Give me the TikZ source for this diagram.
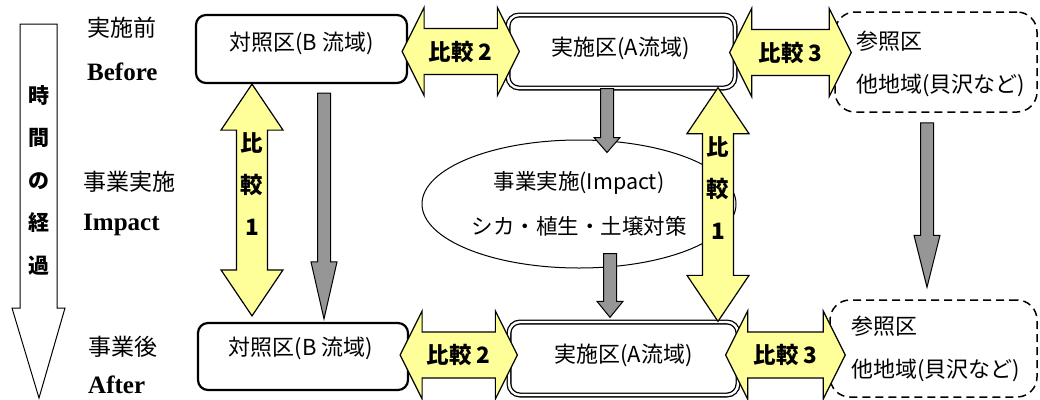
\documentclass[tikz,border=0pt]{standalone}
\usepackage{fontspec}
\setmainfont{Noto Sans CJK JP}
\newfontfamily\romanfont{Liberation Serif}
\usetikzlibrary{shapes.geometric, positioning, calc}

\definecolor{cmpyellow}{RGB}{255,255,153}
\definecolor{flowgray}{RGB}{150,150,150}

\tikzset{
  cmparrow/.style={fill=cmpyellow, draw=black, line width=1.2pt},
  cmplbl/.style={inner sep=0pt, align=center, font=\bfseries\fontsize{22.5}{42}\selectfont},
  flow/.style={fill=flowgray, draw=black, line width=1pt},
}

% yellow double arrow, left/right
\newcommand{\cmph}[4]{%
  \path (#2) coordinate (hl) (#3) coordinate (hr);
  \filldraw[cmparrow] (hl) -- ($(hl)+(22,-44)$) -- ($(hl)+(22,-23)$) -- ($(hr)+(-22,-23)$)
    -- ($(hr)+(-22,-44)$) -- (hr) -- ($(hr)+(-22,44)$) -- ($(hr)+(-22,23)$)
    -- ($(hl)+(22,23)$) -- ($(hl)+(22,44)$) -- cycle;
  \node[cmplbl] (#1) at ($(hl)!0.5!(hr)$) {#4};
}
% yellow double arrow, up/down
\newcommand{\cmpv}[4]{%
  \path (#2) coordinate (vt) (#3) coordinate (vb);
  \filldraw[cmparrow] (vt) -- ($(vt)+(31,46)$) -- ($(vt)+(15.5,46)$) -- ($(vb)+(15.5,-46)$)
    -- ($(vb)+(31,-46)$) -- (vb) -- ($(vb)+(-31,-46)$) -- ($(vb)+(-15.5,-46)$)
    -- ($(vt)+(-15.5,46)$) -- ($(vt)+(-31,46)$) -- cycle;
  \node[cmplbl] (#1) at ($(vt)!0.43!(vb)$) {#4};
}
% gray arrow down
\newcommand{\flowarrow}[3]{%
  \path (#1) coordinate (fs) (#2) coordinate (ft);
  \filldraw[flow] ($(fs)+(-6.5,0)$) -- ($(ft)+(-6.5,-#3)$) -- ($(ft)+(-13,-#3)$) -- (ft)
    -- ($(ft)+(13,-#3)$) -- ($(ft)+(6.5,-#3)$) -- ($(fs)+(6.5,0)$) -- cycle;
}

\begin{document}
\begin{tikzpicture}[x=1pt, y=-1pt,
    ctrl/.style={draw, line width=2.2pt, rounded corners=10pt, fill=white, inner sep=0pt},
    impl/.style={draw, line width=1.3pt, double=white, double distance=2.4pt, rounded corners=11pt, inner sep=0pt},
    refr/.style={draw, line width=1.5pt, dash pattern=on 8pt off 5pt, rounded corners=20pt, inner sep=0pt},
    boxtxt/.style={inner sep=0pt, font=\fontsize{22}{43}\selectfont},
    rowjp/.style={anchor=west, inner sep=0pt, font=\fontsize{23}{27}\selectfont},
    rowen/.style={anchor=west, inner sep=0pt, font=\romanfont\bfseries\fontsize{25}{30}\selectfont},
    timetxt/.style={inner sep=0pt, align=center, font=\bfseries\fontsize{21}{42.5}\selectfont}]
    \useasboundingbox (0,0) rectangle (1040,399);

    % time axis
    \draw[line width=1pt, fill=white] (20,24) -- (57,24) -- (57,308) -- (65,308) -- (39,398) -- (12,308) -- (20,308) -- cycle;
    \node[timetxt] (time) at (38.5,180) {時\\間\\の\\経\\過};

    % row labels
    \node[rowjp] (prejp) at (87,28) {実施前};
    \node[rowen] (preen) at (87,72) {Before};
    \node[rowjp] (impjp) at (83,182) {事業実施};
    \node[rowen] (impen) at (83,225) {Impact};
    \node[rowjp] (postjp) at (88,347) {事業後};
    \node[rowen] (posten) at (88,385) {After};

    % areas
    \node[ctrl, minimum width=211pt, minimum height=68pt] (Bpre) at (301.5,49) {};
    \node[impl, minimum width=227pt, minimum height=73pt] (Apre) at (621.5,51.5) {};
    \node[refr, minimum width=202pt, minimum height=100pt] (Rpre) at (936,62) {};
    \node[ctrl, minimum width=210pt, minimum height=67pt] (Bpost) at (303,356.5) {};
    \node[impl, minimum width=229pt, minimum height=73pt] (Apost) at (623.5,358.5) {};
    \node[refr, minimum width=207pt, minimum height=97pt] (Rpost) at (933.5,348.5) {};
    \node[ellipse, draw, line width=1pt, minimum width=314pt, minimum height=128pt, inner sep=0pt,
      align=center, font=\fontsize{21.5}{45}\selectfont] (imp) at (579,204) {事業実施(Impact)\\シカ・植生・土壌対策};

    \node[boxtxt] (Bpretxt) at ($(Bpre)+(0,-6)$) {対照区(B 流域)};
    \node[boxtxt] (Apretxt) at ($(Apre)+(-1,-3.5)$) {実施区(A流域)};
    \node[boxtxt, align=left, anchor=west] (Rpretxt) at ($(Rpre.west)+(22,1.5)$) {参照区\\他地域(貝沢など)};
    \node[boxtxt] (Bposttxt) at ($(Bpost)+(-2,-8.5)$) {対照区(B 流域)};
    \node[boxtxt] (Aposttxt) at ($(Apost)+(0,-3.5)$) {実施区(A流域)};
    \node[boxtxt, align=left, anchor=west] (Rposttxt) at ($(Rpost.west)+(22,0.5)$) {参照区\\他地域(貝沢など)};

    % time flow
    \flowarrow{$(Bpre.south)+(22.5,9)$}{$(Bpost.north)+(21,-3)$}{57}
    \flowarrow{$(Apre.south)+(-14.5,0)$}{$(imp.north)+(28,13)$}{15}
    \flowarrow{$(imp.south)+(31,-15)$}{$(Apost.north)+(-13.5,-4)$}{16}
    \flowarrow{$(Rpre.south)+(-9,10)$}{$(Rpost.north)+(-6.5,-12)$}{52}

    % comparisons
    \cmpv{cmp1b}{$(Bpre.south)+(-49.5,0)$}{$(Bpost.north)+(-51,-6)$}{比\\較\\1}
    \cmpv{cmp1a}{$(Apre.south)+(96.5,-1)$}{$(Apost.north)+(94.5,0)$}{比\\較\\1}
    \cmph{cmp2pre}{$(Bpre.east |- Apre.west)+(-6,0)$}{$(Apre.west)+(12,0)$}{比較 2}
    \cmph{cmp3pre}{$(Apre.east)+(-6,1)$}{$(Apre.east -| Rpre.west)+(17,1)$}{比較 3}
    \cmph{cmp2post}{$(Bpost.east)+(-9,-1.5)$}{$(Bpost.east -| Apost.west)+(9,-1.5)$}{比較 2}
    \cmph{cmp3post}{$(Apost.east)+(-13,-3.5)$}{$(Apost.east -| Rpost.west)+(16,-3.5)$}{比較 3}
\end{tikzpicture}
\end{document}
